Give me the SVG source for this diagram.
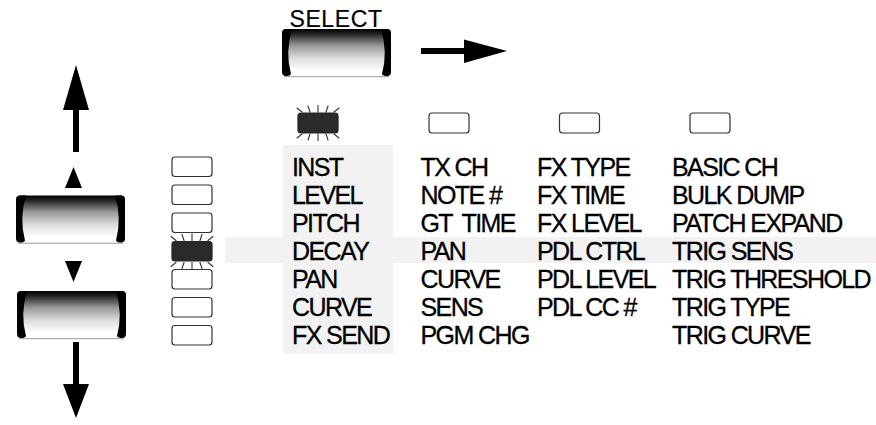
<svg xmlns="http://www.w3.org/2000/svg" xmlns:xlink="http://www.w3.org/1999/xlink" width="876" height="425" viewBox="0 0 876 425">
<style>
.lbl{font-family:"Liberation Sans",Arial,sans-serif;font-size:25px;letter-spacing:-1.6px;fill:#000;stroke:#000;stroke-width:0.3}
.sel{font-family:"Liberation Sans",Arial,sans-serif;font-size:23px;letter-spacing:0.6px;fill:#000;stroke:#000;stroke-width:0.2}
.led{fill:#fff;stroke:#333;stroke-width:1.2}
.lit{fill:#2a2a2a;stroke:#222;stroke-width:1.2}
.glow line{stroke:#333;stroke-width:1.1;stroke-linecap:round}
.band{fill:#f2f2f2}
.arrow{fill:#000}
</style>
<defs>
<linearGradient id="grad" x1="0" y1="0" x2="0" y2="1">
<stop offset="0" stop-color="#000"/>
<stop offset="0.1" stop-color="#222"/>
<stop offset="0.35" stop-color="#999"/>
<stop offset="0.62" stop-color="#ddd"/>
<stop offset="0.88" stop-color="#fff"/>
<stop offset="1" stop-color="#fff"/>
</linearGradient>
<g id="btn">
<rect x="0" y="0" width="109" height="47.5" rx="4" fill="url(#grad)"/>
<line x1="2" y1="47.7" x2="107" y2="47.7" stroke="#999" stroke-width="1"/>
<path d="M0,5 Q0,0 5,0 L10,0 Q3,23 9,45 Q8,47 4,47 Q0,47 0,43 Z" fill="#000"/>
<path d="M109,5 Q109,0 104,0 L99,0 Q106,23 100,45 Q101,47 105,47 Q109,47 109,43 Z" fill="#000"/>
</g>
<g id="glow" class="glow">
<line x1="-1" y1="-5" x2="4" y2="-1"/>
<line x1="10" y1="-7" x2="12" y2="-1"/>
<line x1="20" y1="-7.5" x2="20" y2="-1"/>
<line x1="30" y1="-7" x2="28" y2="-1"/>
<line x1="41" y1="-5" x2="36" y2="-1"/>
<line x1="-1" y1="25" x2="4" y2="21"/>
<line x1="10" y1="27" x2="12" y2="21"/>
<line x1="20" y1="27.5" x2="20" y2="21"/>
<line x1="30" y1="27" x2="28" y2="21"/>
<line x1="41" y1="25" x2="36" y2="21"/>
</g>
</defs>
<rect width="876" height="425" fill="#fff"/>
<g id="highlights">
<rect class="band" x="225" y="237" width="651" height="26"/>
<rect class="band" x="283" y="145" width="110" height="209"/>
</g>
<g id="connectors">
<path class="arrow" d="M421,48 L464,48 L464,39.5 L507,51 L464,63 L464,54 L421,54 Z"/>
<path class="arrow" d="M73,152 L73,110 L63,110 L76,65 L89,110 L79,110 L79,152 Z"/>
<path class="arrow" d="M73,342 L73,384 L63,384 L76,418 L89,384 L79,384 L79,342 Z"/>
</g>
<g id="select-button">
<text class="sel" x="336" y="27" text-anchor="middle">SELECT</text>
<use xlink:href="#btn" x="282" y="29"/>
</g>
<g id="up-button">
<path class="arrow" d="M73.5,167 L82,188 L65,188 Z"/>
<use xlink:href="#btn" x="16" y="195.5"/>
</g>
<g id="down-button">
<path class="arrow" d="M65,261 L82,261 L73.5,282 Z"/>
<use xlink:href="#btn" x="17" y="291"/>
</g>
<g id="column-leds">
<rect class="lit" x="298" y="113" width="40" height="20" rx="3"/>
<use xlink:href="#glow" x="298" y="113"/>
<rect class="led" x="429" y="113" width="40" height="20" rx="3"/>
<rect class="led" x="559.5" y="113" width="40" height="20" rx="3"/>
<rect class="led" x="690" y="113" width="40" height="20" rx="3"/>
</g>
<g id="row-leds">
<rect class="led" x="172" y="157" width="40" height="19.5" rx="3"/>
<rect class="led" x="172" y="185" width="40" height="19.5" rx="3"/>
<rect class="led" x="172" y="213" width="40" height="19.5" rx="3"/>
<rect class="lit" x="172" y="241.5" width="40" height="19.5" rx="3"/>
<use xlink:href="#glow" x="172" y="241.5"/>
<rect class="led" x="172" y="269.5" width="40" height="19.5" rx="3"/>
<rect class="led" x="172" y="297.5" width="40" height="19.5" rx="3"/>
<rect class="led" x="172" y="325.5" width="40" height="19.5" rx="3"/>
</g>
<g id="col-inst">
<text class="lbl" x="292" y="176">INST</text>
<text class="lbl" x="292" y="204">LEVEL</text>
<text class="lbl" x="292" y="232">PITCH</text>
<text class="lbl" x="292" y="260">DECAY</text>
<text class="lbl" x="292" y="287.5">PAN</text>
<text class="lbl" x="292" y="315.5">CURVE</text>
<text class="lbl" x="292" y="343.5">FX SEND</text>
</g>
<g id="col-midi">
<text class="lbl" x="420.5" y="176">TX CH</text>
<text class="lbl" x="420.5" y="204">NOTE #</text>
<text class="lbl" x="420.5" y="232">GT <tspan dx="5">TIME</tspan></text>
<text class="lbl" x="420.5" y="260">PAN</text>
<text class="lbl" x="420.5" y="287.5">CURVE</text>
<text class="lbl" x="420.5" y="315.5">SENS</text>
<text class="lbl" x="420.5" y="343.5">PGM CHG</text>
</g>
<g id="col-fx">
<text class="lbl" x="537" y="176">FX TYPE</text>
<text class="lbl" x="537" y="204">FX TIME</text>
<text class="lbl" x="537" y="232">FX LEVEL</text>
<text class="lbl" x="537" y="260">PDL CTRL</text>
<text class="lbl" x="537" y="287.5">PDL LEVEL</text>
<text class="lbl" x="537" y="315.5">PDL CC #</text>
</g>
<g id="col-system">
<text class="lbl" x="672" y="176">BASIC CH</text>
<text class="lbl" x="672" y="204">BULK DUMP</text>
<text class="lbl" x="672" y="232">PATCH EXPAND</text>
<text class="lbl" x="672" y="260">TRIG SENS</text>
<text class="lbl" x="672" y="287.5">TRIG THRESHOLD</text>
<text class="lbl" x="672" y="315.5">TRIG TYPE</text>
<text class="lbl" x="672" y="343.5">TRIG CURVE</text>
</g>
</svg>
